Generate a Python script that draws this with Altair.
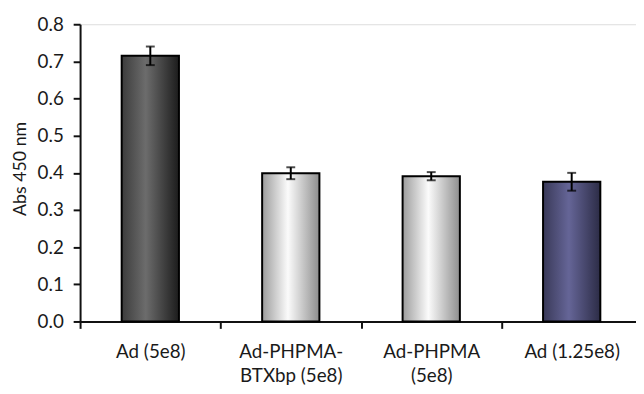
import altair as alt
import pandas as pd

categories = ["Ad (5e8)", "Ad-PHPMA-\nBTXbp (5e8)", "Ad-PHPMA\n(5e8)", "Ad (1.25e8)"]
values = [0.715, 0.399, 0.391, 0.376]
errors = [0.025, 0.016, 0.011, 0.024]
y_ticks = [0.0, 0.1, 0.2, 0.3, 0.4, 0.5, 0.6, 0.7, 0.8]

gradients = [
    [("#3c3c3c", 0.0), ("#6c6c6c", 0.42), ("#1c1c1c", 1.0)],
    [("#9c9c9c", 0.0), ("#fbfbfb", 0.45), ("#8e8e8e", 1.0)],
    [("#9c9c9c", 0.0), ("#fbfbfb", 0.45), ("#8e8e8e", 1.0)],
    [("#393958", 0.0), ("#656597", 0.45), ("#2c2c46", 1.0)],
]

df = pd.DataFrame({
    "cat": categories,
    "val": values,
    "lo": [v - e for v, e in zip(values, errors)],
    "hi": [v + e for v, e in zip(values, errors)],
})

FONT = "Lato"
FS = 19

x_axis = alt.Axis(
    title=None,
    labelAngle=0,
    labelExpr="split(datum.label, '\\n')",
    labelLineHeight=25,
    labelFontSize=FS,
    labelFont=FONT,
    labelColor="#1a1a1a",
    labelPadding=14,
    tickBand="extent",
    tickSize=7,
    tickWidth=2,
    tickColor="#111111",
    domainColor="#111111",
    domainWidth=2,
)
x_scale = alt.Scale(range=[0, 569], paddingInner=0, paddingOuter=0)

y_scale = alt.Scale(domain=[0, 0.8], nice=False)
y_axis = alt.Axis(
    title="Abs 450 nm",
    values=y_ticks,
    format=".1f",
    grid=False,
    labelOverlap=False,
    labelFontSize=FS,
    labelFont=FONT,
    labelColor="#1a1a1a",
    labelPadding=10,
    tickSize=7,
    tickWidth=2,
    tickColor="#111111",
    domainColor="#111111",
    domainWidth=2,
    titleFont=FONT,
    titleFontSize=18,
    titleFontWeight="normal",
    titleColor="#1a1a1a",
    titleAngle=270,
    titleX=-55,
    titleY=146,
    titleAlign="center",
    titleBaseline="alphabetic",
)


def X():
    return alt.X("cat:N", sort=categories, scale=x_scale, axis=x_axis)


base = alt.Chart(df)

layers = []
for i, cat in enumerate(categories):
    grad = alt.LinearGradient(
        gradient="linear",
        x1=0, x2=1, y1=0, y2=0,
        stops=[alt.GradientStop(color=c, offset=o) for c, o in gradients[i]],
    )
    bar = base.transform_filter(alt.datum.cat == cat).mark_bar(
        size=58, stroke="#000000", strokeWidth=2, fill=grad
    ).encode(
        x=X(),
        y=alt.Y("val:Q", scale=y_scale, axis=y_axis),
    )
    layers.append(bar)

err = base.mark_rule(color="#000000", strokeWidth=2).encode(
    x=X(),
    y=alt.Y("lo:Q", scale=y_scale, axis=y_axis),
    y2="hi:Q",
)
caps_lo = base.mark_tick(color="#000000", thickness=2, size=9).encode(
    x=X(), y=alt.Y("lo:Q", scale=y_scale, axis=y_axis)
)
caps_hi = base.mark_tick(color="#000000", thickness=2, size=9).encode(
    x=X(), y=alt.Y("hi:Q", scale=y_scale, axis=y_axis)
)

chart = alt.layer(*layers, err, caps_lo, caps_hi).properties(
    width=563,
    height=301,
    padding={"left": 73, "top": 14, "right": 0, "bottom": 70},
    autosize=alt.AutoSizeParams(type="none"),
).configure_view(stroke=None).configure(background="white")

chart.save("out.html", embed_options={"renderer": "svg", "actions": False})
